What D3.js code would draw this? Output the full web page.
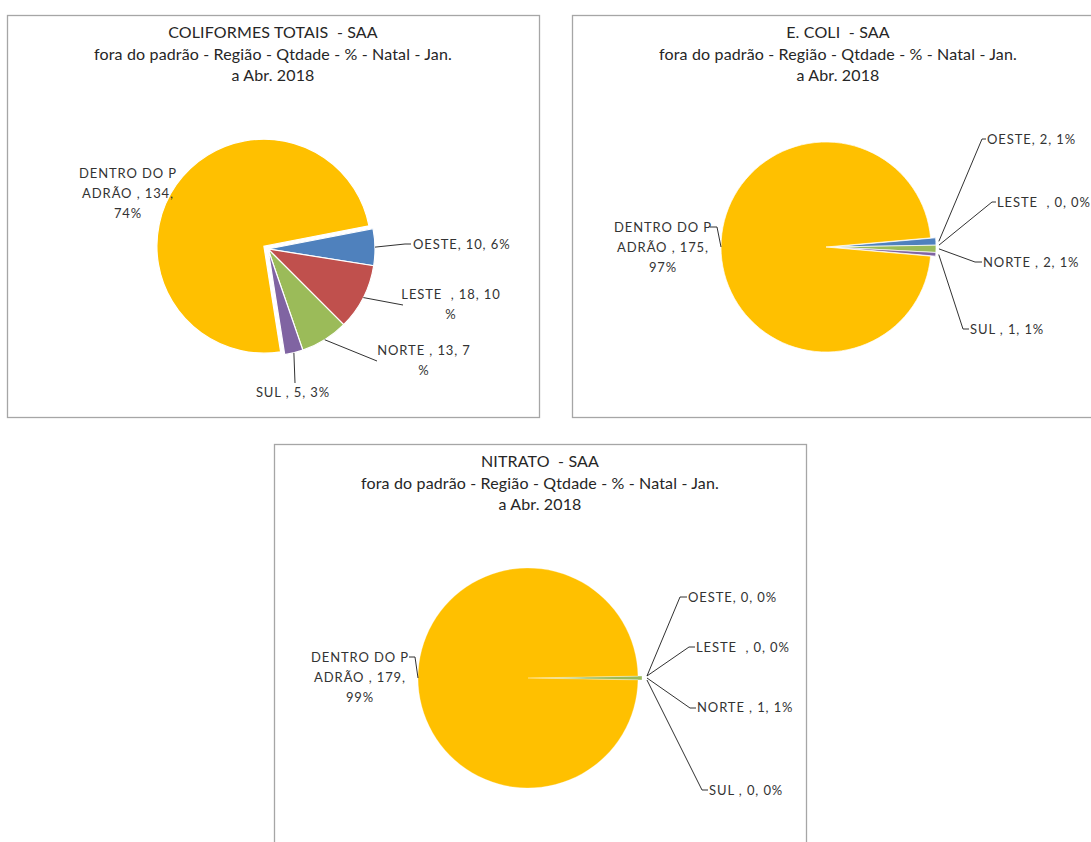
<!DOCTYPE html>
<html>
<head>
<meta charset="utf-8">
<script src="https://cdn.jsdelivr.net/npm/d3@7"></script>
<style>
  html, body { margin: 0; padding: 0; background: #ffffff; }
  svg { display: block; }
  text { font-family: Lato, "Open Sans", sans-serif; fill: #333333; white-space: pre; }
</style>
</head>
<body>
<svg id="chart" width="1091" height="842"></svg>
<script>
// Regions (slice order) and the counts per parameter
const categories = ["OESTE", "LESTE  ", "NORTE ", "SUL ", "DENTRO DO PADRÃO "];
const coliformesValues = [10, 18, 13, 5, 134];
const ecoliValues = [2, 0, 2, 1, 175];
const nitratoValues = [0, 0, 1, 0, 179];
const sliceColors = ["#4F81BD", "#C0504D", "#9BBB59", "#8064A2", "#FFC000"];

const subtitle = "fora do padrão - Região - Qtdade - % - Natal - Jan.";
const period = "a Abr. 2018";
const coliformesTitle = ["COLIFORMES TOTAIS  - SAA", subtitle, period];
const ecoliTitle = ["E. COLI  - SAA", subtitle, period];
const nitratoTitle = ["NITRATO  - SAA", subtitle, period];

// Layout of each chart panel (box origin, pie placement, label anchors)
const panels = [
  {
    title: coliformesTitle, values: coliformesValues,
    box: [7, 15], center: [261, 234], r: 107, start: 79, explode: 5, leaderGap: 0, sliceStroke: 1.2,
    labels: [
      { x: 406, y: 234, anchor: "start", wrap: "one", leader: [[398, 229], [404, 229]] },
      { x: 444, y: 284, anchor: "middle", wrap: "pct", leader: [[396, 290]] },
      { x: 417, y: 340, anchor: "middle", wrap: "pct", leader: [[370, 346]] },
      { x: 286, y: 382, anchor: "middle", wrap: "one", leader: [[288, 368]] },
      { x: 121, y: 163, anchor: "middle", wrap: "dentro", leader: [] }
    ]
  },
  {
    title: ecoliTitle, values: ecoliValues,
    box: [572, 15], center: [259, 232], r: 105, start: 85, explode: 5, leaderGap: 3, sliceStroke: 0.7,
    labels: [
      { x: 415, y: 129, anchor: "start", wrap: "one", leader: [[410, 124], [414, 124]] },
      { x: 425, y: 192, anchor: "start", wrap: "one", leader: [[420, 187], [424, 187]] },
      { x: 411, y: 252, anchor: "start", wrap: "one", leader: [[403, 247], [410, 247]] },
      { x: 398, y: 319, anchor: "start", wrap: "one", leader: [[391, 314], [397, 314]] },
      { x: 91, y: 217, anchor: "middle", wrap: "dentro", leader: [[145, 212], [138, 212]] }
    ]
  },
  {
    title: nitratoTitle, values: nitratoValues,
    box: [274, 444], center: [258, 234], r: 110, start: 89, explode: 4, leaderGap: 5, sliceStroke: 0.3,
    labels: [
      { x: 414, y: 158, anchor: "start", wrap: "one", leader: [[406, 153], [413, 153]] },
      { x: 422, y: 208, anchor: "start", wrap: "one", leader: [[415, 203], [421, 203]] },
      { x: 423, y: 268, anchor: "start", wrap: "one", leader: [[416, 264], [422, 264]] },
      { x: 435, y: 351, anchor: "start", wrap: "one", leader: [[428, 346], [434, 346]] },
      { x: 86, y: 218, anchor: "middle", wrap: "dentro", leader: [[141, 213], [135, 213]] }
    ]
  }
];

const BOX_W = 532, BOX_H = 402;
const svg = d3.select("#chart");

// Builds the data label lines: "name, value, pct%" with the panel's wrapping
function labelLines(name, value, pct, wrap) {
  if (wrap === "pct") return [`${name}, ${value}, ${pct}`, "%"];
  if (wrap === "dentro") return [name.slice(0, 11), `${name.slice(11)}, ${value},`, `${pct}%`];
  return [`${name}, ${value}, ${pct}%`];
}

panels.forEach(p => {
  const g = svg.append("g").attr("transform", `translate(${p.box[0]},${p.box[1]})`);

  g.append("rect")
    .attr("x", 0.5).attr("y", 0.5)
    .attr("width", BOX_W).attr("height", BOX_H)
    .attr("fill", "#ffffff")
    .attr("stroke", "#a6a6a6")
    .attr("stroke-width", 1.3);

  const titleLines = [22.5, 44.5, 66];
  g.selectAll("text.title")
    .data(p.title)
    .join("text")
    .attr("class", "title")
    .attr("x", BOX_W / 2)
    .attr("y", (d, i) => titleLines[i])
    .attr("text-anchor", "middle")
    .attr("letter-spacing", "0.15px")
    .style("font-size", "16px")
    .style("fill", "#262626")
    .text(d => d);

  const total = d3.sum(p.values);
  const startRad = p.start * Math.PI / 180;
  const pie = d3.pie().sort(null).value(d => d.value)
    .startAngle(startRad).endAngle(startRad + 2 * Math.PI);
  const data = pie(p.values.map((v, i) => ({ name: categories[i], value: v, color: sliceColors[i] })));
  const arc = d3.arc().innerRadius(0).outerRadius(p.r);

  const pieG = g.append("g").attr("transform", `translate(${p.center[0]},${p.center[1]})`);
  const lastIdx = data.length - 1;

  // Offset of the exploded "dentro do padrão" slice along its bisector
  const shift = d => {
    if (d.index !== lastIdx) return [0, 0];
    const mid = (d.startAngle + d.endAngle) / 2;
    return [Math.sin(mid) * p.explode, -Math.cos(mid) * p.explode];
  };

  pieG.selectAll("path.slice")
    .data(data)
    .join("path")
    .attr("class", "slice")
    .attr("transform", d => `translate(${shift(d)[0]},${shift(d)[1]})`)
    .attr("d", arc)
    .attr("fill", d => d.data.color)
    .attr("stroke", "#ffffff")
    .attr("stroke-width", d => d.value === 0 ? 0 : p.sliceStroke);

  // Leader lines from the slice edge to the label
  data.forEach((d, i) => {
    const lab = p.labels[i];
    if (!lab.leader.length) return;
    const mid = (d.startAngle + d.endAngle) / 2;
    const s = shift(d);
    const rr = p.r + (d.index === lastIdx ? 0 : p.leaderGap);
    const start = [p.center[0] + s[0] + Math.sin(mid) * rr, p.center[1] + s[1] - Math.cos(mid) * rr];
    g.append("path")
      .attr("d", d3.line()([start, ...lab.leader]))
      .attr("fill", "none")
      .attr("stroke", "#1a1a1a")
      .attr("stroke-width", 0.9);
  });

  // Data labels
  data.forEach((d, i) => {
    const lab = p.labels[i];
    const pct = Math.round(d.value / total * 100);
    const lines = labelLines(d.data.name, d.value, pct, lab.wrap);
    const t = g.append("text")
      .attr("text-anchor", lab.anchor)
      .style("font-size", "13px")
      .attr("letter-spacing", "0.9px");
    lines.forEach((ln, k) => {
      t.append("tspan")
        .attr("x", lab.x)
        .attr("y", lab.y + k * 20)
        .text(ln);
    });
  });
});
</script>
</body>
</html>
